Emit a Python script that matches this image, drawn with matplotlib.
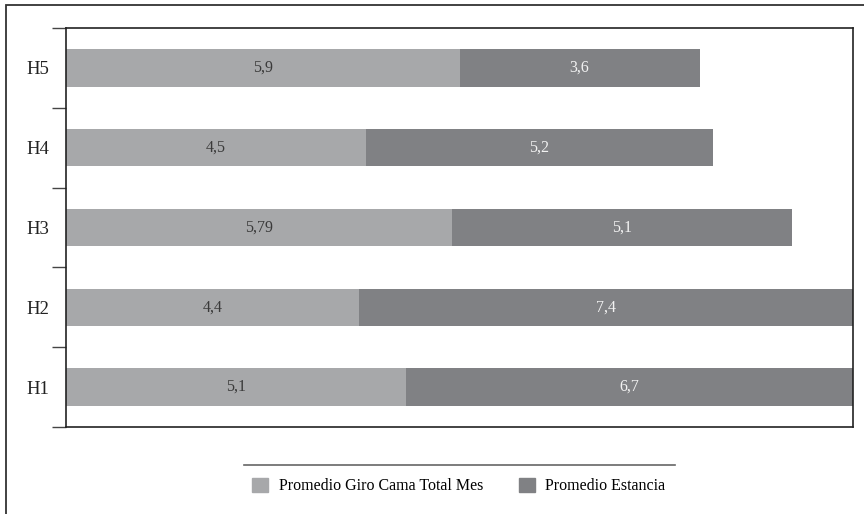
import matplotlib.pyplot as plt
from matplotlib.lines import Line2D
from matplotlib.patches import Rectangle, Patch
import numpy as np

hospitales = ['H1', 'H2', 'H3', 'H4', 'H5']
giro_cama = [5.1, 4.4, 5.79, 4.5, 5.9]
estancia = [6.7, 7.4, 5.1, 5.2, 3.6]
giro_txt = ['5,1', '4,4', '5,79', '4,5', '5,9']
estancia_txt = ['6,7', '7,4', '5,1', '5,2', '3,6']

color_giro = '#a7a8aa'
color_estancia = '#808184'

plt.rcParams['font.family'] = ['Liberation Serif', 'DejaVu Serif']
plt.rcParams['font.size'] = 11.5

fig = plt.figure(figsize=(8.64, 5.14), dpi=100)
ax = fig.add_axes([66 / 864, 1 - 427 / 514, 787 / 864, 399 / 514])

y = np.arange(len(hospitales))
ax.barh(y, giro_cama, height=0.47, color=color_giro, label='Promedio Giro Cama Total Mes')
ax.barh(y, estancia, left=giro_cama, height=0.47, color=color_estancia, label='Promedio Estancia')

for i in range(len(hospitales)):
    ax.text(giro_cama[i] / 2, y[i], giro_txt[i], ha='center', va='center',
            color='#3a3a3a', fontsize=11.5)
    ax.text(giro_cama[i] + estancia[i] / 2, y[i], estancia_txt[i], ha='center',
            va='center', color='#f2f2f2', fontsize=11.5)

ax.set_xlim(0, 11.8)
ax.set_ylim(-0.5, 4.5)
ax.set_xticks([])

# category boundaries get the outward ticks, labels sit at bar centres
ax.set_yticks(np.arange(-0.5, 5, 1))
ax.set_yticklabels([])
ax.tick_params(axis='y', which='major', direction='out', length=10, width=1, color='#444444')
ax.set_yticks(y, minor=True)
ax.set_yticklabels(hospitales, minor=True, fontsize=13.5, color='#222222')
ax.tick_params(axis='y', which='minor', length=0, pad=12)

for s in ax.spines.values():
    s.set_color('#222222')
    s.set_linewidth(1.2)

# legend with a rule above it
fig.add_artist(Line2D([244 / 864, 675 / 864], [1 - 465 / 514, 1 - 465 / 514],
                      color='#666666', linewidth=1.2))
handles = [Patch(color=color_giro), Patch(color=color_estancia)]
fig.legend(handles, ['Promedio Giro Cama Total Mes', 'Promedio Estancia'],
           loc='center', bbox_to_anchor=(459 / 864, 1 - 486 / 514), ncol=2,
           frameon=False, handlelength=1.0, handleheight=1.0, handletextpad=0.65,
           columnspacing=2.25, fontsize=11.5)

# outer frame
fig.add_artist(Rectangle((6 / 864, -0.05), 1.2, 1 - 5 / 514 + 0.05,
                         transform=fig.transFigure, fill=False,
                         edgecolor='#333333', linewidth=1.3))

fig.savefig('out.png', dpi=100)
